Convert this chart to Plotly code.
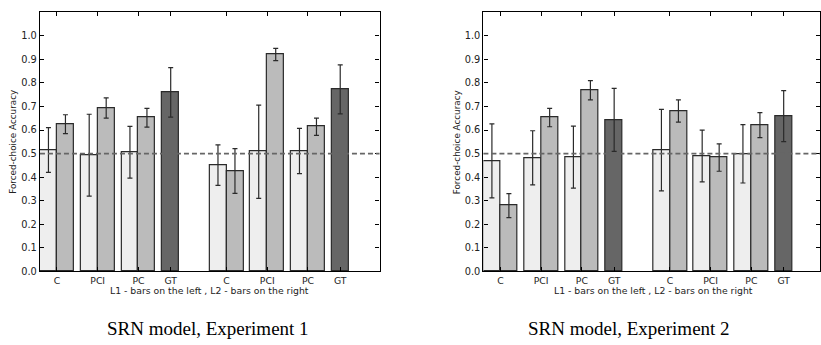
import plotly.graph_objects as go

# ---------------- data ----------------
categories = ["C", "PCI", "PC", "GT", "C", "PCI", "PC", "GT"]
# left edge of each category slot (in bar-group units)
group_pos = [0, 1, 2, 3, 4.16, 5.16, 6.16, 7.16]
bar_w = 0.417
paired = [True, True, True, False, True, True, True, False]

# Experiment 1
exp1_l1 = [0.515, 0.493, 0.506, None, 0.451, 0.508, 0.511, None]
exp1_l1_err = [0.095, 0.174, 0.110, None, 0.086, 0.198, 0.096, None]
exp1_l2 = [0.625, 0.694, 0.652, None, 0.426, 0.921, 0.614, None]
exp1_l2_err = [0.040, 0.043, 0.040, None, 0.095, 0.026, 0.037, None]
exp1_gt = [None, None, None, 0.760, None, None, None, 0.773]
exp1_gt_err = [None, None, None, 0.105, None, None, None, 0.104]

# Experiment 2
exp2_l1 = [0.469, 0.482, 0.485, None, 0.515, 0.490, 0.499, None]
exp2_l1_err = [0.157, 0.115, 0.132, None, 0.173, 0.110, 0.124, None]
exp2_l2 = [0.279, 0.653, 0.769, None, 0.681, 0.483, 0.621, None]
exp2_l2_err = [0.051, 0.039, 0.041, None, 0.047, 0.058, 0.053, None]
exp2_gt = [None, None, None, 0.643, None, None, None, 0.659]
exp2_gt_err = [None, None, None, 0.134, None, None, None, 0.108]

yticks = [0.0, 0.1, 0.2, 0.3, 0.4, 0.5, 0.6, 0.7, 0.8, 0.9, 1.0]
chance = 0.5
captions = ["SRN model, Experiment 1", "SRN model, Experiment 2"]
x_title = "L1 - bars on the left , L2 - bars on the right"
y_title = "Forced-choice Accuracy"

# ---------------- styling ----------------
W, H = 821, 345
C_L1, C_L2, C_GT = "#eeeeee", "#bbbbbb", "#666666"
EDGE = "#2a2a2a"
ERR = "#2a2a2a"
FONT = "DejaVu Sans"

panels = [
    dict(l1=exp1_l1, l1e=exp1_l1_err, l2=exp1_l2, l2e=exp1_l2_err, gt=exp1_gt, gte=exp1_gt_err,
         x0=40, x1=380),
    dict(l1=exp2_l1, l1e=exp2_l1_err, l2=exp2_l2, l2e=exp2_l2_err, gt=exp2_gt, gte=exp2_gt_err,
         x0=484, x1=821),
]
unit_px = 40.8
y_top_px, y_bot_px = 12.5, 275.3

fig = go.Figure()
annotations = []
shapes = []

l1_x = [p + bar_w / 2 for p in group_pos]
l2_x = [p + 1.5 * bar_w for p in group_pos]
tick_x = [p + (bar_w if pr else bar_w / 2) for p, pr in zip(group_pos, paired)]

for i, pn in enumerate(panels):
    xa = "x" if i == 0 else "x2"
    ya = "y" if i == 0 else "y2"
    for xs, ys, es, col in [(l1_x, pn["l1"], pn["l1e"], C_L1),
                            (l2_x, pn["l2"], pn["l2e"], C_L2),
                            (l1_x, pn["gt"], pn["gte"], C_GT)]:
        fig.add_trace(go.Bar(
            x=xs, y=ys, width=bar_w, xaxis=xa, yaxis=ya,
            marker=dict(color=col, line=dict(color=EDGE, width=1.2)),
            error_y=dict(type="data", array=es, visible=True, color=ERR,
                         thickness=1.2, width=2.5),
            showlegend=False, hoverinfo="skip"))
    dom = [pn["x0"] / W, pn["x1"] / W]
    rng_max = (pn["x1"] - pn["x0"]) / unit_px
    axis_common = dict(showline=True, linecolor="black", linewidth=1.3, mirror="ticks",
                       ticks="inside", ticklen=4, tickcolor="black", tickwidth=1,
                       showgrid=False, zeroline=False)
    xkey = "xaxis" if i == 0 else "xaxis2"
    ykey = "yaxis" if i == 0 else "yaxis2"
    fig.update_layout(**{
        xkey: dict(domain=dom, range=[0, rng_max], tickmode="array", tickvals=tick_x,
                   ticktext=categories, anchor=ya,
                   tickfont=dict(family=FONT, size=9.3, color="#222"), **axis_common),
        ykey: dict(domain=[(H - y_bot_px) / H, (H - y_top_px) / H], range=[0, 1.1],
                   tickmode="array", tickvals=yticks,
                   ticktext=[f"{v:.1f}" for v in yticks], anchor=xa,
                   tickfont=dict(family=FONT, size=9.8, color="#222"), **axis_common),
    })
    shapes.append(dict(type="line", xref=f"{xa} domain", yref=ya, x0=0, x1=1,
                       y0=chance, y1=chance,
                       line=dict(color="#666666", width=1.6, dash="5px,3px")))
    cx = (pn["x0"] + (pn["x0"] + 340)) / 2 / W
    annotations.append(dict(text=x_title, xref="paper", yref="paper", x=cx, y=(H - 295) / H,
                            showarrow=False, font=dict(family=FONT, size=9.3, color="#222"),
                            xanchor="center", yanchor="middle"))
    annotations.append(dict(text=y_title, xref="paper", yref="paper",
                            x=(pn["x0"] - 27) / W, y=(H - (y_top_px + y_bot_px) / 2) / H,
                            textangle=-90, showarrow=False,
                            font=dict(family=FONT, size=8.8, color="#222"),
                            xanchor="center", yanchor="middle"))
    annotations.append(dict(text=captions[i], xref="paper", yref="paper",
                            x=[208, 630][i] / W, y=(H - 333) / H, showarrow=False,
                            font=dict(family="Liberation Serif", size=19, color="black"),
                            xanchor="center", yanchor="middle"))

fig.update_layout(width=W, height=H, margin=dict(l=0, r=0, t=0, b=0),
                  plot_bgcolor="white", paper_bgcolor="white", barmode="overlay",
                  bargap=0, shapes=shapes, annotations=annotations)

fig.write_html("out.html")
